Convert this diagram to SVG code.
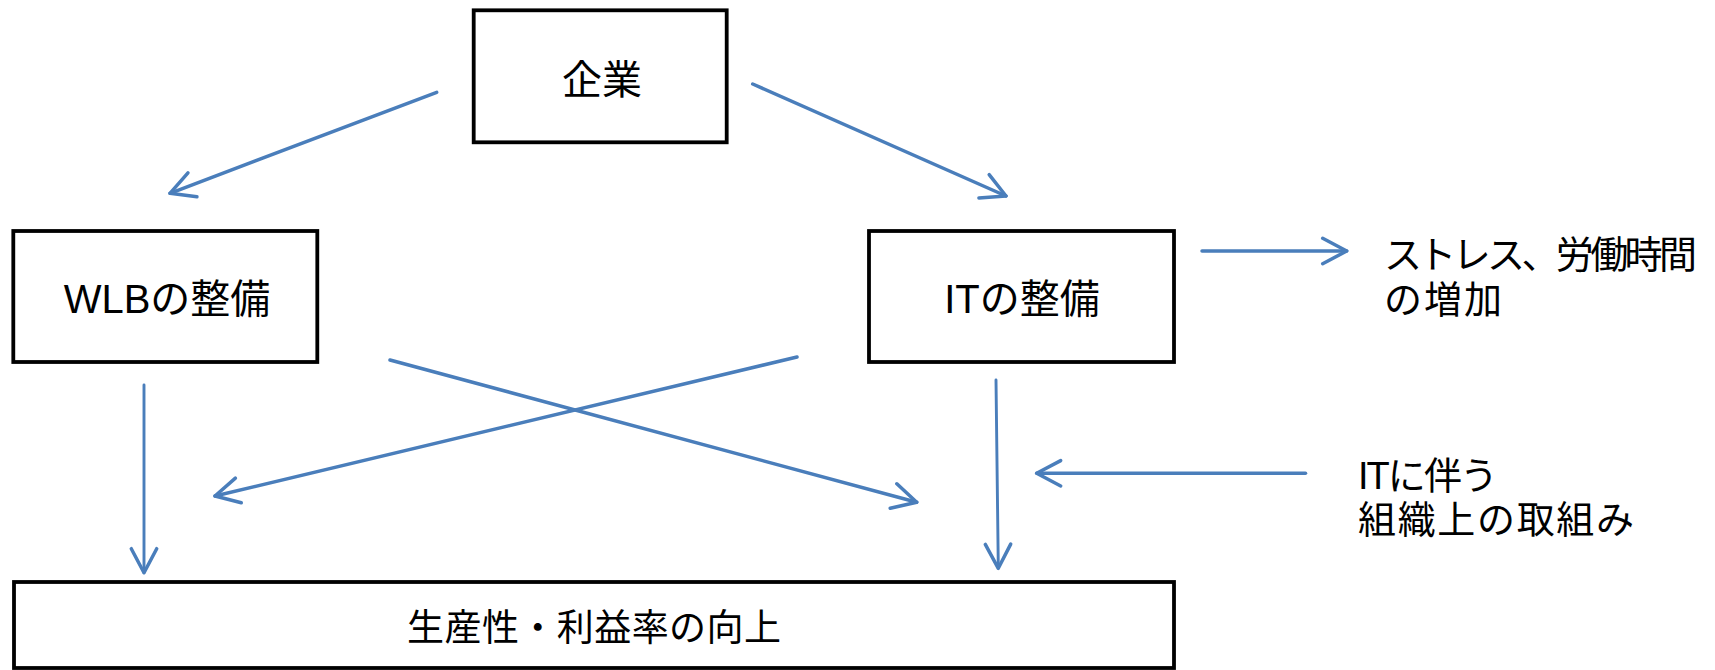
<svg xmlns="http://www.w3.org/2000/svg" width="1715" height="670" viewBox="0 0 1715 670">
<style>
.box{fill:#fff;stroke:#000;stroke-width:3.8}
.t{font-family:"Liberation Sans","Noto Sans CJK JP",sans-serif;fill:#000}
.c{stroke:#4a7ebb;stroke-width:3.5;fill:none;stroke-linecap:round}
.v{stroke-width:2.9}
</style>
<defs>
<marker id="arr" markerUnits="userSpaceOnUse" viewBox="-30 -16 32 32" refX="0" refY="0" markerWidth="32" markerHeight="32" orient="auto" overflow="visible">
<path d="M-24,-12.7 L0,0 L-24,12.7" fill="none" stroke="#4a7ebb" stroke-width="3.5" stroke-linecap="round" stroke-linejoin="round"/>
</marker>
</defs>
<rect width="1715" height="670" fill="#fff"/>
<g id="connectors">
<line class="c" x1="436.7" y1="92.3" x2="170" y2="193.3" marker-end="url(#arr)"/>
<line class="c" x1="752.7" y1="84" x2="1006" y2="196" marker-end="url(#arr)"/>
<line class="c v" x1="144" y1="385" x2="144" y2="572.7" marker-end="url(#arr)"/>
<line class="c v" x1="996" y1="380" x2="998.3" y2="568.3" marker-end="url(#arr)"/>
<line class="c" x1="390" y1="360" x2="916.7" y2="502.3" marker-end="url(#arr)"/>
<line class="c" x1="797" y1="357" x2="215" y2="496" marker-end="url(#arr)"/>
<line class="c" x1="1202" y1="251" x2="1346.7" y2="251" marker-end="url(#arr)"/>
<line class="c" x1="1305.5" y1="473.3" x2="1036.7" y2="473.3" marker-end="url(#arr)"/>
</g>
<g id="node-kigyo">
<rect class="box" x="473.7" y="10.3" width="253" height="132"/>
<text class="t" x="602" y="94" font-size="40" text-anchor="middle">企業</text>
</g>
<g id="node-wlb">
<rect class="box" x="13.3" y="231" width="304" height="131"/>
<text class="t" x="167" y="313" font-size="40" text-anchor="middle">WLBの整備</text>
</g>
<g id="node-it">
<rect class="box" x="869" y="231" width="305" height="131"/>
<text class="t" x="1022" y="313" font-size="40" text-anchor="middle">ITの整備</text>
</g>
<g id="node-result">
<rect class="box" x="14" y="582" width="1160" height="86"/>
<text class="t" x="407" y="641" font-size="37" textLength="374">生産性・利益率の向上</text>
</g>
<g id="label-stress">
<text class="t" x="1384" y="268" font-size="38" textLength="313">ストレス、労働時間</text>
<text class="t" x="1384" y="313" font-size="38" textLength="118">の増加</text>
</g>
<g id="label-org">
<text class="t" x="1358" y="489" font-size="38" textLength="140">ITに伴う</text>
<text class="t" x="1358" y="533" font-size="38" textLength="276">組織上の取組み</text>
</g>
</svg>
